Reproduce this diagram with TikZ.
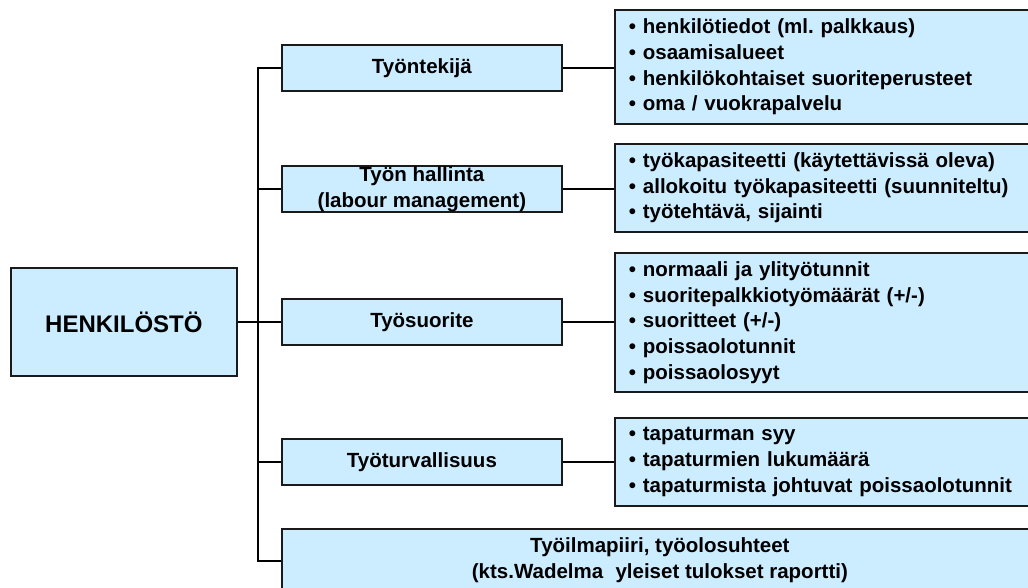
\documentclass[tikz,border=0pt]{standalone}
\usepackage{fontspec}
\setmainfont{Liberation Sans}
\frenchspacing
\definecolor{boxfill}{HTML}{CCECFF}
\definecolor{boxline}{HTML}{1A1A1A}
\begin{document}
\begin{tikzpicture}[x=1pt,y=-1pt,
  box/.style={draw=boxline,line width=1.8pt,fill=boxfill,anchor=north west,
    inner sep=0pt,font=\fontsize{20.5}{25.7}\selectfont\bfseries},
  midbox/.style={box,minimum width=280pt,minimum height=46pt,align=center},
  listbox/.style={box,minimum width=426pt,text width=398pt,inner xsep=14pt,align=left},
  link/.style={draw=black,line width=1.4pt}]
\useasboundingbox (0,0) rectangle (1028,587);
\clip (0,0) rectangle (1028,587);

% root
\node[box,minimum width=226pt,minimum height=108pt,
  font=\fontsize{24}{28}\selectfont\bfseries] (root) at (10,267) {HENKILÖSTÖ};

% middle column
\node[midbox] (m1) at (281,44) {Työntekijä};
\node[midbox] (m2) at (281,165) {Työn hallinta\\(labour management)};
\node[midbox] (m3) at (281,298) {Työsuorite};
\node[midbox] (m4) at (281,438) {Työturvallisuus};
\node[midbox,minimum width=756pt,minimum height=63pt] (m5) at (281,528)
  {Työilmapiiri, työolosuhteet\\(kts.Wadelma\hspace{0.6em}yleiset tulokset raportti)};

% detail lists
\node[listbox,minimum height=114pt] (r1) at (614,9)
  {• henkilötiedot (ml. palkkaus)\\• osaamisalueet\\• henkilökohtaiset suoriteperusteet\\• oma / vuokrapalvelu};
\node[listbox,minimum height=88pt] (r2) at (614,143)
  {• työkapasiteetti (käytettävissä oleva)\\• allokoitu työkapasiteetti (suunniteltu)\\• työtehtävä, sijainti};
\node[listbox,minimum height=139pt] (r3) at (614,252)
  {• normaali ja ylityötunnit\\• suoritepalkkiotyömäärät (+/-)\\• suoritteet (+/-)\\• poissaolotunnit\\• poissaolosyyt};
\node[listbox,minimum height=88pt] (r4) at (614,417)
  {• tapaturman syy\\• tapaturmien lukumäärä\\• tapaturmista johtuvat poissaolotunnit};

% trunk
\coordinate (trunk) at (258,0);
\coordinate (tbot) at (258,561);
\draw[link] (m1.west) -| (tbot) -- (tbot -| m5.west);
\draw[link] (root.east) -- (root.east -| trunk);
\draw[link] (m2.west) -- (m2.west -| trunk);
\draw[link] (m3.west) -- (m3.west -| trunk);
\draw[link] (m4.west) -- (m4.west -| trunk);

% branches to detail lists
\draw[link] (m1.east) -- (m1.east -| r1.west);
\draw[link] (m2.east) -- (m2.east -| r2.west);
\draw[link] (m3.east) -- (m3.east -| r3.west);
\draw[link] (m4.east) -- (m4.east -| r4.west);
\end{tikzpicture}
\end{document}
